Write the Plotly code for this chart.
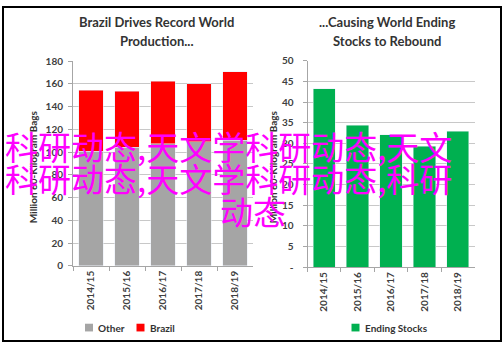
import plotly.graph_objects as go

# ---- data ----
seasons = ["2014/15", "2015/16", "2016/17", "2017/18", "2018/19"]
other = [100.8, 104.0, 107.2, 109.0, 110.3]
brazil = [53.5, 49.5, 55.0, 51.0, 60.5]
stocks = [43.2, 34.4, 32.1, 29.3, 32.9]
y1_ticks = [0, 20, 40, 60, 80, 100, 120, 140, 160, 180]
y2_ticks = [0, 5, 10, 15, 20, 25, 30, 35, 40, 45, 50]
y2_text = ["-", "5", "10", "15", "20", "25", "30", "35", "40", "45", "50"]
title_left = ["Brazil Drives Record World", "Production..."]
title_right = ["...Causing World Ending", "Stocks to Rebound"]
y_title = "Million 60-Kilogram Bags"
overlay = ["科研动态,天文学科研动态,天文", "科研动态,天文学科研动态,科研", "动态"]

W, H = 504, 350
def px(x): return x / W
def py(y): return 1 - y / H

GRAY, RED, GREEN = "#a5a5a5", "#ff0000", "#00b050"
FONT = "Lato"
TICKC = "#404040"
TITLEC = "#333333"

fig = go.Figure()
fig.add_bar(x=seasons, y=other, name="Other", marker_color=GRAY, width=0.69,
            xaxis="x", yaxis="y", showlegend=False)
fig.add_bar(x=seasons, y=brazil, name="Brazil", marker_color=RED, width=0.69,
            xaxis="x", yaxis="y", showlegend=False)
fig.add_bar(x=seasons, y=stocks, name="Ending Stocks", marker_color=GREEN, width=0.67,
            xaxis="x2", yaxis="y2", showlegend=False)

tickfont = dict(family=FONT, size=10, color=TICKC, weight="bold")
xcommon = dict(type="category", tickangle=-90, showline=True, linecolor="#a6a6a6",
               ticks="outside", tickson="boundaries", ticklen=4, tickcolor="#a6a6a6",
               tickfont=tickfont, showgrid=False, fixedrange=True)
ycommon = dict(showline=True, linecolor="#a6a6a6", ticks="outside", ticklen=4,
               tickcolor="#a6a6a6", showgrid=True, gridcolor="#c8c8c8", gridwidth=1,
               zeroline=False, tickfont=tickfont, fixedrange=True)

fig.update_layout(
    width=W, height=H, margin=dict(l=0, r=0, t=0, b=0),
    paper_bgcolor="white", plot_bgcolor="white",
    barmode="stack",
    xaxis=dict(domain=[px(73), px(253)], anchor="y", **xcommon),
    yaxis=dict(domain=[py(269), py(57)], anchor="x", range=[0, 180],
               tickvals=y1_ticks, ticklabelstandoff=3, **ycommon),
    xaxis2=dict(domain=[px(307.5), px(474.5)], anchor="y2", **xcommon),
    yaxis2=dict(domain=[py(270.5), py(56.7)], anchor="x2", range=[0, 50],
                tickvals=y2_ticks, ticktext=y2_text, ticklabelstandoff=7, **ycommon),
    font=dict(family=FONT),
)

ann = []
def text(t, x, y, size, color, xanchor="center", yanchor="middle", angle=0,
         family=FONT, bold=True):
    ann.append(dict(text=t, x=px(x), y=py(y), xref="paper", yref="paper",
                    showarrow=False, xanchor=xanchor, yanchor=yanchor, textangle=angle,
                    font=dict(family=family, size=size, color=color,
                              weight="bold" if bold else "normal")))

# titles
text(title_left[0], 156, 17, 13, TITLEC)
text(title_left[1], 156, 36, 13, TITLEC)
text(title_right[0], 387, 17, 13, TITLEC)
text(title_right[1], 387, 36, 13, TITLEC)
# y-axis titles
text(y_title, 33, 167, 10, TITLEC, angle=-90)
text(y_title, 273, 167, 10, TITLEC, angle=-90)

# manual legends
shapes = []
def legend_item(x0, label, color):
    shapes.append(dict(type="rect", xref="paper", yref="paper",
                       x0=px(x0), x1=px(x0 + 8), y0=py(337), y1=py(329),
                       fillcolor=color, line=dict(width=0)))
    text(label, x0 + 11, 333, 10, TITLEC, xanchor="left")

legend_item(85, "Other", GRAY)
legend_item(136.5, "Brazil", RED)
legend_item(351.5, "Ending Stocks", GREEN)

# outer frame
shapes.append(dict(type="rect", xref="paper", yref="paper",
                   x0=px(3), x1=px(501), y0=py(347), y1=py(1),
                   line=dict(color="black", width=2), fillcolor="rgba(0,0,0,0)"))

# overlay watermark text
CJK = "Noto Sans CJK SC"
text(overlay[0], 3, 145, 33, "#ff00ff", xanchor="left", family=CJK, bold=False)
text(overlay[1], 3, 178, 33, "#ff00ff", xanchor="left", family=CJK, bold=False)
text(overlay[2], 218, 212, 33, "#ff00ff", xanchor="left", family=CJK, bold=False)

fig.update_layout(annotations=ann, shapes=shapes)
fig.write_html("out.html")
